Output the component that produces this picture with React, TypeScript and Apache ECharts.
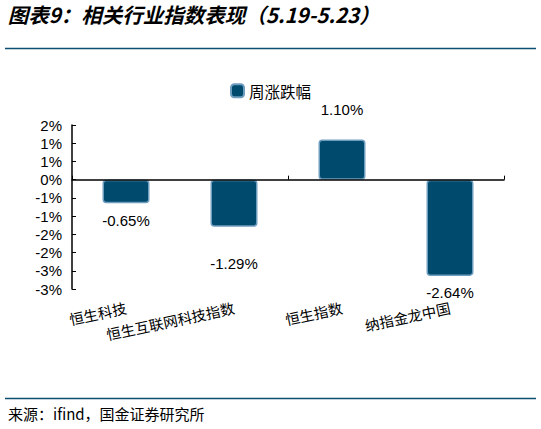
import React, { useEffect, useRef } from "react";
import * as echarts from "echarts";

const categories = ["恒生科技", "恒生互联网科技指数", "恒生指数", "纳指金龙中国"];
const weeklyChange = [-0.65, -1.29, 1.1, -2.64];
const seriesName = "周涨跌幅";
const titleText = "图表9：相关行业指数表现（5.19-5.23）";
const sourceText = "来源：ifind，国金证券研究所";

// Excel style "0%" rounding (half away from zero)
const fmtTick = (v: number) => {
  const r = Math.sign(v) * Math.round(Math.abs(v));
  return `${r === 0 ? 0 : r}%`;
};

const labelGap = [10, 29, 23, 9];

const App = () => {
  const chartRef = useRef<HTMLDivElement>(null);

  useEffect(() => {
    if (!chartRef.current) return;
    const chart = echarts.init(chartRef.current, null, { renderer: "svg" });

    const numFont = "Liberation Sans, Arial, sans-serif";
    const cjkFont = "Noto Sans CJK SC, sans-serif";

    chart.setOption({
      animation: false,
      backgroundColor: "#fff",
      legend: {
        data: [seriesName],
        left: 225,
        top: 78,
        itemWidth: 13,
        itemHeight: 13,
        itemGap: 4,
        icon: "roundRect",
        textStyle: { fontFamily: cjkFont, fontSize: 15.5, color: "#000" },
      },
      grid: { left: 72, right: 37, top: 125, bottom: 140, containLabel: false },
      xAxis: [
        {
          type: "category",
          data: categories,
          position: "bottom",
          z: 5,
          axisLine: { onZero: true, lineStyle: { color: "#000", width: 1.5 } },
          axisTick: { show: true, inside: true, length: 4, lineStyle: { color: "#000" } },
          axisLabel: { show: false },
        },
        {
          type: "category",
          data: categories,
          position: "bottom",
          axisLine: { show: false, onZero: false },
          axisTick: { show: false },
          axisLabel: {
            margin: 18,
            rotate: 12,
            interval: 0,
            fontFamily: cjkFont,
            fontSize: 14.5,
            color: "#000",
          },
        },
      ],
      yAxis: {
        type: "value",
        min: -3,
        max: 1.5,
        interval: 0.5,
        splitLine: { show: false },
        axisLine: { show: true, lineStyle: { color: "#000", width: 1.5 } },
        axisTick: { show: true, inside: true, length: 4, lineStyle: { color: "#000" } },
        axisLabel: {
          margin: 10,
          formatter: fmtTick,
          fontFamily: numFont,
          fontSize: 15,
          color: "#000",
        },
      },
      series: [
        {
          name: seriesName,
          type: "bar",
          xAxisIndex: 0,
          barWidth: 47,
          itemStyle: {
            color: "#004A6E",
            borderColor: "#6F9DBD",
            borderWidth: 1.5,
            borderRadius: 3,
          },
          data: weeklyChange.map((v, i) => ({
            value: v,
            label: {
              show: true,
              position: "outside",
              distance: labelGap[i],
              formatter: `${v.toFixed(2)}%`,
              fontFamily: numFont,
              fontSize: 15,
              color: "#000",
            },
          })),
        },
      ],
      graphic: [
        {
          type: "text",
          x: 10,
          y: 4,
          skewX: -0.25,
          originY: 10,
          style: {
            text: titleText,
            font: `bold 20.5px ${cjkFont}`,
            fill: "#000",
            verticalAlign: "top",
          },
        },
        {
          type: "line",
          shape: { x1: 5, y1: 48.5, x2: 536, y2: 48.5 },
          style: { stroke: "#0C4E72", lineWidth: 1.5 },
        },
        {
          type: "line",
          shape: { x1: 5, y1: 398.5, x2: 536, y2: 398.5 },
          style: { stroke: "#0C4E72", lineWidth: 1.5 },
        },
        {
          type: "text",
          left: 8,
          top: 406,
          style: {
            text: sourceText,
            font: `15px ${cjkFont}`,
            fill: "#000",
          },
        },
      ],
    });

    return () => chart.dispose();
  }, []);

  return (
    <div
      ref={chartRef}
      style={{ position: "absolute", left: 0, top: 0, width: 541, height: 429 }}
    />
  );
};

export default App;
